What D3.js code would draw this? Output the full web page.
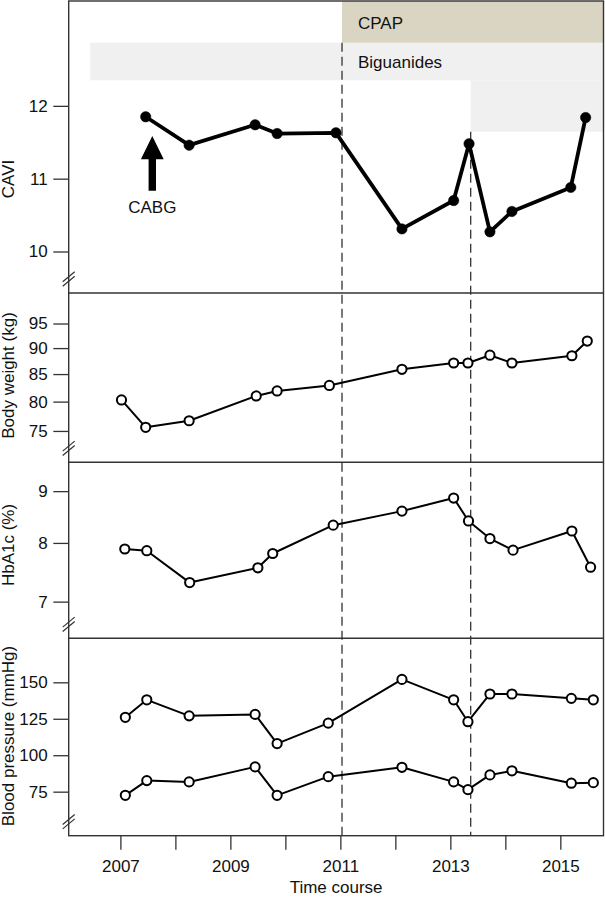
<!DOCTYPE html>
<html><head><meta charset="utf-8">
<script src="https://cdn.jsdelivr.net/npm/d3@7"></script>
<style>
html,body{margin:0;padding:0;background:#fff;}
svg text{font-family:"Liberation Sans",Arial,Helvetica,sans-serif;fill:#111;}
</style></head>
<body><svg id="chart" width="605" height="898"></svg>
<script>
// ---------- data ----------
const caviDates = [2007.46, 2008.25, 2009.45, 2009.85, 2010.92, 2012.12, 2013.06, 2013.34, 2013.72, 2014.12, 2015.19, 2015.46];
const caviValues = [11.85, 11.46, 11.74, 11.62, 11.63, 10.31, 10.70, 11.48, 10.27, 10.55, 10.88, 11.84];

const weightDates = [2007.02, 2007.46, 2008.25, 2009.47, 2009.85, 2010.80, 2012.12, 2013.06, 2013.32, 2013.72, 2014.12, 2015.21, 2015.49];
const weightValues = [80.3, 75.6, 76.7, 81.0, 81.9, 82.9, 85.9, 87.1, 87.1, 88.6, 87.1, 88.5, 91.4];

const hba1cDates = [2007.08, 2007.48, 2008.26, 2009.50, 2009.77, 2010.87, 2012.12, 2013.06, 2013.33, 2013.72, 2014.14, 2015.21, 2015.55];
const hba1cValues = [7.89, 7.86, 7.31, 7.56, 7.81, 8.33, 8.60, 8.86, 8.41, 8.08, 7.87, 8.22, 7.57];

const bpDates = [2007.09, 2007.48, 2008.25, 2009.45, 2009.85, 2010.78, 2012.12, 2013.06, 2013.32, 2013.72, 2014.12, 2015.20, 2015.60];
const systolic = [126, 138, 127, 128, 108, 122, 152, 138, 123, 142, 142, 139, 138];
const diastolic = [72.5, 82.6, 81.7, 92, 72.5, 85.3, 91.7, 81.7, 76.4, 86.5, 89.3, 80.8, 81.2];

const xTicks = [2007, 2008, 2009, 2010, 2011, 2012, 2013, 2014, 2015];
const caviTicks = [10, 11, 12];
const weightTicks = [75, 80, 85, 90, 95];
const hba1cTicks = [7, 8, 9];
const bpTicks = [75, 100, 125, 150];

const eventDates = [2011.03, 2013.37];           // CPAP start, Biguanides stop
const cpapLabel = "CPAP";
const biguanidesLabel = "Biguanides";
const cabgLabel = "CABG";
const cabgDate = 2007.58;

// ---------- layout ----------
const L = 68.7, R = 603.5;
const panels = [
  {top: 1, bottom: 293},
  {top: 293, bottom: 462.3},
  {top: 462.3, bottom: 638.3},
  {top: 638.3, bottom: 835.7}
];
const FONT = 17;
const svg = d3.select("#chart");

const x = d3.scaleLinear().domain([2006.06, 2015.785]).range([L, R]);
const yCavi = d3.scaleLinear().domain([9.43, 13.44]).range([panels[0].bottom, panels[0].top]);
const yW = d3.scaleLog().domain([70, 101.6]).range([panels[1].bottom, panels[1].top]);
const yH = d3.scaleLog().domain([6.44, 9.61]).range([panels[2].bottom, panels[2].top]);
const yBP = d3.scaleLinear().domain([44.8, 180.2]).range([panels[3].bottom, panels[3].top]);

// ---------- shaded annotation boxes (in CAVI data units) ----------
const gBoxes = svg.append("g");
// Biguanides band
gBoxes.append("rect")
  .attr("x", x(2006.453)).attr("y", yCavi(12.867))
  .attr("width", R - x(2006.453)).attr("height", yCavi(12.351) - yCavi(12.867))
  .attr("fill", "#f0f0f0");
gBoxes.append("rect")
  .attr("x", x(eventDates[1])).attr("y", yCavi(12.351))
  .attr("width", R - x(eventDates[1])).attr("height", yCavi(11.645) - yCavi(12.351))
  .attr("fill", "#f0f0f0");
// CPAP band
gBoxes.append("rect")
  .attr("x", x(eventDates[0])).attr("y", panels[0].top)
  .attr("width", R - x(eventDates[0])).attr("height", yCavi(12.867) - panels[0].top)
  .attr("fill", "#dad5c2");
gBoxes.append("text").attr("x", x(eventDates[0]) + 16).attr("y", 28.5)
  .attr("font-size", FONT).text(cpapLabel);
gBoxes.append("text").attr("x", x(eventDates[0]) + 16).attr("y", 67.7)
  .attr("font-size", FONT).text(biguanidesLabel);

// ---------- dashed event lines ----------
const dashTops = [yCavi(12.867), yCavi(11.645)];
eventDates.forEach((d, i) => {
  svg.append("line")
    .attr("x1", x(d)).attr("x2", x(d))
    .attr("y1", dashTops[i]).attr("y2", panels[3].bottom)
    .attr("stroke", "#333").attr("stroke-width", 1.3)
    .attr("stroke-dasharray", "9,5");
});

// ---------- frame ----------
const frame = svg.append("g").attr("stroke", "#333").attr("stroke-width", 1.4).attr("fill", "none");
frame.append("rect").attr("x", L).attr("y", panels[0].top)
  .attr("width", R - L).attr("height", panels[3].bottom - panels[0].top);
panels.slice(1).forEach(p => {
  frame.append("line").attr("x1", L).attr("x2", R).attr("y1", p.top).attr("y2", p.top);
});

// break marks
panels.forEach(p => {
  const cy = p.bottom - 14;
  [-2.2, 2.2].forEach(d => {
    svg.append("line")
      .attr("x1", L - 6).attr("y1", cy + 5 + d)
      .attr("x2", L + 6).attr("y2", cy - 5 + d)
      .attr("stroke", "#333").attr("stroke-width", 1.2);
  });
});

// ---------- y axes ----------
function yAxis(scale, ticks) {
  const g = svg.append("g").attr("transform", `translate(${L},0)`)
    .call(d3.axisLeft(scale).tickValues(ticks).tickFormat(d3.format("d")).tickSize(15.4).tickPadding(5.6));
  g.select(".domain").remove();
  g.selectAll(".tick line").attr("stroke", "#333").attr("stroke-width", 1.3);
  g.selectAll(".tick text").attr("font-size", FONT).attr("font-family", "Liberation Sans, Arial, sans-serif").attr("fill", "#111");
}
yAxis(yCavi, caviTicks);
yAxis(yW, weightTicks);
yAxis(yH, hba1cTicks);
yAxis(yBP, bpTicks);

// y titles
const titles = [["CAVI", 179], ["Body weight (kg)", 375.5], ["HbA1c (%)", 545], ["Blood pressure (mmHg)", 736]];
titles.forEach(([t, cy]) => {
  svg.append("text").attr("transform", `translate(14,${cy}) rotate(-90)`)
    .attr("text-anchor", "middle").attr("font-size", FONT).text(t);
});

// ---------- x axis ----------
const gx = svg.append("g").attr("transform", `translate(0,${panels[3].bottom})`)
  .call(d3.axisBottom(x).tickValues(xTicks).tickSize(14).tickPadding(10.3)
    .tickFormat(d => d % 2 === 1 ? d3.format("d")(d) : ""));
gx.select(".domain").remove();
gx.selectAll(".tick line").attr("stroke", "#333").attr("stroke-width", 1.3);
gx.selectAll(".tick text").attr("font-size", FONT).attr("font-family", "Liberation Sans, Arial, sans-serif").attr("fill", "#111");
svg.append("text").attr("x", (L + R) / 2).attr("y", 893).attr("text-anchor", "middle")
  .attr("font-size", FONT).text("Time course");

// ---------- series ----------
function series(dates, values, yScale, opts) {
  const pts = dates.map((d, i) => [x(d), yScale(values[i])]);
  svg.append("path").attr("d", d3.line()(pts))
    .attr("fill", "none").attr("stroke", "#000").attr("stroke-width", opts.lw)
    .attr("stroke-linejoin", "round");
  svg.append("g").selectAll("circle").data(pts).join("circle")
    .attr("cx", p => p[0]).attr("cy", p => p[1]).attr("r", opts.r)
    .attr("fill", opts.fill).attr("stroke", "#000").attr("stroke-width", opts.sw);
}
series(caviDates, caviValues, yCavi, {lw: 3.8, r: 5.2, fill: "#000", sw: 0.5});
const open = {lw: 2, r: 4.6, fill: "#fff", sw: 2};
series(weightDates, weightValues, yW, open);
series(hba1cDates, hba1cValues, yH, open);
series(bpDates, systolic, yBP, open);
series(bpDates, diastolic, yBP, open);

// ---------- CABG arrow ----------
const ax = x(cabgDate);
const tip = yCavi(11.586), base = yCavi(11.266), tail = yCavi(10.835);
svg.append("path")
  .attr("d", `M${ax},${tip} L${ax + 11.4},${base} L${ax + 3.7},${base} L${ax + 3.7},${tail} L${ax - 3.7},${tail} L${ax - 3.7},${base} L${ax - 11.4},${base} Z`)
  .attr("fill", "#000");
svg.append("text").attr("x", ax).attr("y", yCavi(10.53)).attr("text-anchor", "middle")
  .attr("font-size", FONT).text(cabgLabel);
</script></body></html>
